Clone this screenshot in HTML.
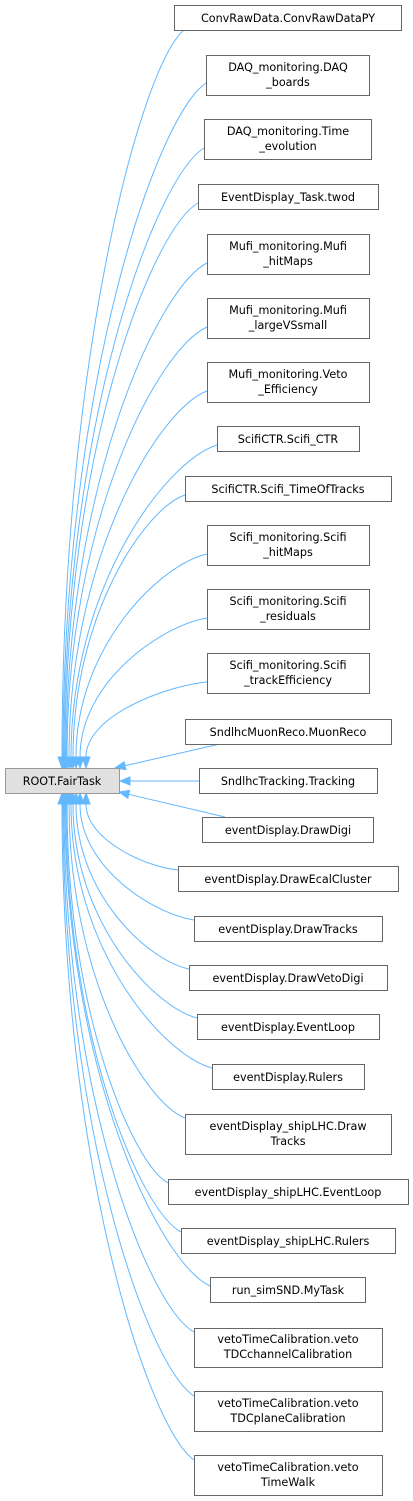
<!DOCTYPE html>
<html><head><meta charset="utf-8"><style>
html,body{margin:0;padding:0;background:#fff;}
svg{display:block;}
text{font-family:"DejaVu Sans","Liberation Sans",sans-serif;font-size:11.2px;fill:#000;text-anchor:middle;}
.b{fill:#fff;stroke:#666;stroke-width:1;}
.e{fill:none;stroke:#63b8ff;stroke-width:1;}
.a{fill:#63b8ff;stroke:#63b8ff;stroke-width:1;}
</style></head><body>
<svg width="413" height="1501" viewBox="0 0 413 1501" xmlns="http://www.w3.org/2000/svg">
<path class="e" d="M184,30 C141,66 62,358 62,757"/>
<path class="e" d="M206,83 C156,117 63,387 63,757"/>
<path class="e" d="M204,148 C155,179 64,422 64,757"/>
<path class="e" d="M198,203 C151,231 65,453 65,757"/>
<path class="e" d="M207,263 C158,288 66,486 66,757"/>
<path class="e" d="M207,327 C158,349 67,521 67,757"/>
<path class="e" d="M207,391 C159,409 69,556 69,757"/>
<path class="e" d="M217,445 C166,461 71,586 71,757"/>
<path class="e" d="M185,495 C146,508 73,613 73,757"/>
<path class="e" d="M207,554 C161,564 76,646 76,757"/>
<path class="e" d="M207,618 C163,625 80,681 80,757"/>
<path class="e" d="M207,682 C165,686 86,716 86,757"/>
<polygon class="a" points="62,768 58,757 66,757"/>
<polygon class="a" points="63,768 59,757 67,757"/>
<polygon class="a" points="64,768 60,757 68,757"/>
<polygon class="a" points="65,768 61,757 69,757"/>
<polygon class="a" points="66,768 62,757 70,757"/>
<polygon class="a" points="67,768 63,757 71,757"/>
<polygon class="a" points="69,768 65,757 73,757"/>
<polygon class="a" points="71,768 67,757 75,757"/>
<polygon class="a" points="73,768 69,757 77,757"/>
<polygon class="a" points="76,768 72,757 80,757"/>
<polygon class="a" points="80,768 76,757 84,757"/>
<polygon class="a" points="86,768 82,757 90,757"/>
<path class="e" d="M220,744 L125,765.7"/>
<polygon class="a" points="115,768 125.9,769.6 124.1,761.8"/>
<path class="e" d="M199,781 L130,781"/>
<polygon class="a" points="120,781 130,777 130,785"/>
<path class="e" d="M225,817 L128.7,794.3"/>
<polygon class="a" points="119,792 129.6,790.4 127.8,798.2"/>
<path class="e" d="M86,804 C86,840 146,867 178,870"/>
<path class="e" d="M80,804 C80,868 154,914 194,920"/>
<path class="e" d="M76,804 C76,895 149,961 189,969"/>
<path class="e" d="M73,804 C73,922 154,1007 197,1018"/>
<path class="e" d="M71,804 C71,949 163,1055 212,1068"/>
<path class="e" d="M69,804 C69,977 144,1102 185,1118"/>
<path class="e" d="M67,804 C67,1012 133,1164 168,1183"/>
<path class="e" d="M66,804 C66,1039 141,1211 181,1232"/>
<path class="e" d="M65,804 C65,1069 159,1262 210,1286"/>
<path class="e" d="M64,804 C64,1094 148,1306 194,1332"/>
<path class="e" d="M63,804 C63,1130 148,1366 194,1396"/>
<path class="e" d="M62,804 C62,1165 148,1427 194,1460"/>
<polygon class="a" points="86,793 82,804 90,804"/>
<polygon class="a" points="80,793 76,804 84,804"/>
<polygon class="a" points="76,793 72,804 80,804"/>
<polygon class="a" points="73,793 69,804 77,804"/>
<polygon class="a" points="71,793 67,804 75,804"/>
<polygon class="a" points="69,793 65,804 73,804"/>
<polygon class="a" points="67,793 63,804 71,804"/>
<polygon class="a" points="66,793 62,804 70,804"/>
<polygon class="a" points="65,793 61,804 69,804"/>
<polygon class="a" points="64,793 60,804 68,804"/>
<polygon class="a" points="63,793 59,804 67,804"/>
<polygon class="a" points="62,793 58,804 66,804"/>
<rect x="5.5" y="768.5" width="114" height="25" fill="#e0e0e0" stroke="#999"/>
<text x="62" y="785">ROOT.FairTask</text>
<rect class="b" x="174.5" y="5.5" width="227" height="25"/><text x="288" y="22">ConvRawData.ConvRawDataPY</text>
<rect class="b" x="206.5" y="55.5" width="163" height="40"/><text x="288" y="71">DAQ_monitoring.DAQ</text><text x="288" y="86">_boards</text>
<rect class="b" x="204.5" y="119.5" width="167" height="40"/><text x="288" y="135">DAQ_monitoring.Time</text><text x="288" y="150">_evolution</text>
<rect class="b" x="198.5" y="184.5" width="180" height="25"/><text x="288" y="201">EventDisplay_Task.twod</text>
<rect class="b" x="207.5" y="234.5" width="162" height="40"/><text x="288" y="250">Mufi_monitoring.Mufi</text><text x="288" y="265">_hitMaps</text>
<rect class="b" x="207.5" y="298.5" width="162" height="40"/><text x="288" y="314">Mufi_monitoring.Mufi</text><text x="288" y="329">_largeVSsmall</text>
<rect class="b" x="207.5" y="362.5" width="162" height="40"/><text x="288" y="378">Mufi_monitoring.Veto</text><text x="288" y="393">_Efficiency</text>
<rect class="b" x="217.5" y="426.5" width="142" height="25"/><text x="288" y="443">ScifiCTR.Scifi_CTR</text>
<rect class="b" x="185.5" y="476.5" width="206" height="25"/><text x="288" y="493">ScifiCTR.Scifi_TimeOfTracks</text>
<rect class="b" x="207.5" y="525.5" width="162" height="40"/><text x="288" y="541">Scifi_monitoring.Scifi</text><text x="288" y="556">_hitMaps</text>
<rect class="b" x="207.5" y="589.5" width="162" height="40"/><text x="288" y="605">Scifi_monitoring.Scifi</text><text x="288" y="620">_residuals</text>
<rect class="b" x="207.5" y="653.5" width="162" height="40"/><text x="288" y="669">Scifi_monitoring.Scifi</text><text x="288" y="684">_trackEfficiency</text>
<rect class="b" x="185.5" y="719.5" width="206" height="25"/><text x="288" y="736">SndlhcMuonReco.MuonReco</text>
<rect class="b" x="199.5" y="768.5" width="178" height="25"/><text x="288" y="785">SndlhcTracking.Tracking</text>
<rect class="b" x="202.5" y="817.5" width="171" height="25"/><text x="288" y="834">eventDisplay.DrawDigi</text>
<rect class="b" x="178.5" y="866.5" width="220" height="25"/><text x="288" y="883">eventDisplay.DrawEcalCluster</text>
<rect class="b" x="194.5" y="916.5" width="188" height="25"/><text x="288" y="933">eventDisplay.DrawTracks</text>
<rect class="b" x="189.5" y="965.5" width="198" height="25"/><text x="288" y="982">eventDisplay.DrawVetoDigi</text>
<rect class="b" x="197.5" y="1014.5" width="182" height="25"/><text x="288" y="1031">eventDisplay.EventLoop</text>
<rect class="b" x="212.5" y="1064.5" width="152" height="25"/><text x="288" y="1081">eventDisplay.Rulers</text>
<rect class="b" x="185.5" y="1114.5" width="206" height="40"/><text x="288" y="1130">eventDisplay_shipLHC.Draw</text><text x="288" y="1145">Tracks</text>
<rect class="b" x="168.5" y="1179.5" width="240" height="25"/><text x="288" y="1196">eventDisplay_shipLHC.EventLoop</text>
<rect class="b" x="181.5" y="1228.5" width="214" height="25"/><text x="288" y="1245">eventDisplay_shipLHC.Rulers</text>
<rect class="b" x="210.5" y="1277.5" width="155" height="25"/><text x="288" y="1294">run_simSND.MyTask</text>
<rect class="b" x="194.5" y="1328.5" width="188" height="39"/><text x="288" y="1343">vetoTimeCalibration.veto</text><text x="288" y="1358">TDCchannelCalibration</text>
<rect class="b" x="194.5" y="1391.5" width="188" height="40"/><text x="288" y="1407">vetoTimeCalibration.veto</text><text x="288" y="1422">TDCplaneCalibration</text>
<rect class="b" x="194.5" y="1455.5" width="188" height="40"/><text x="288" y="1471">vetoTimeCalibration.veto</text><text x="288" y="1486">TimeWalk</text>
</svg>
</body></html>
